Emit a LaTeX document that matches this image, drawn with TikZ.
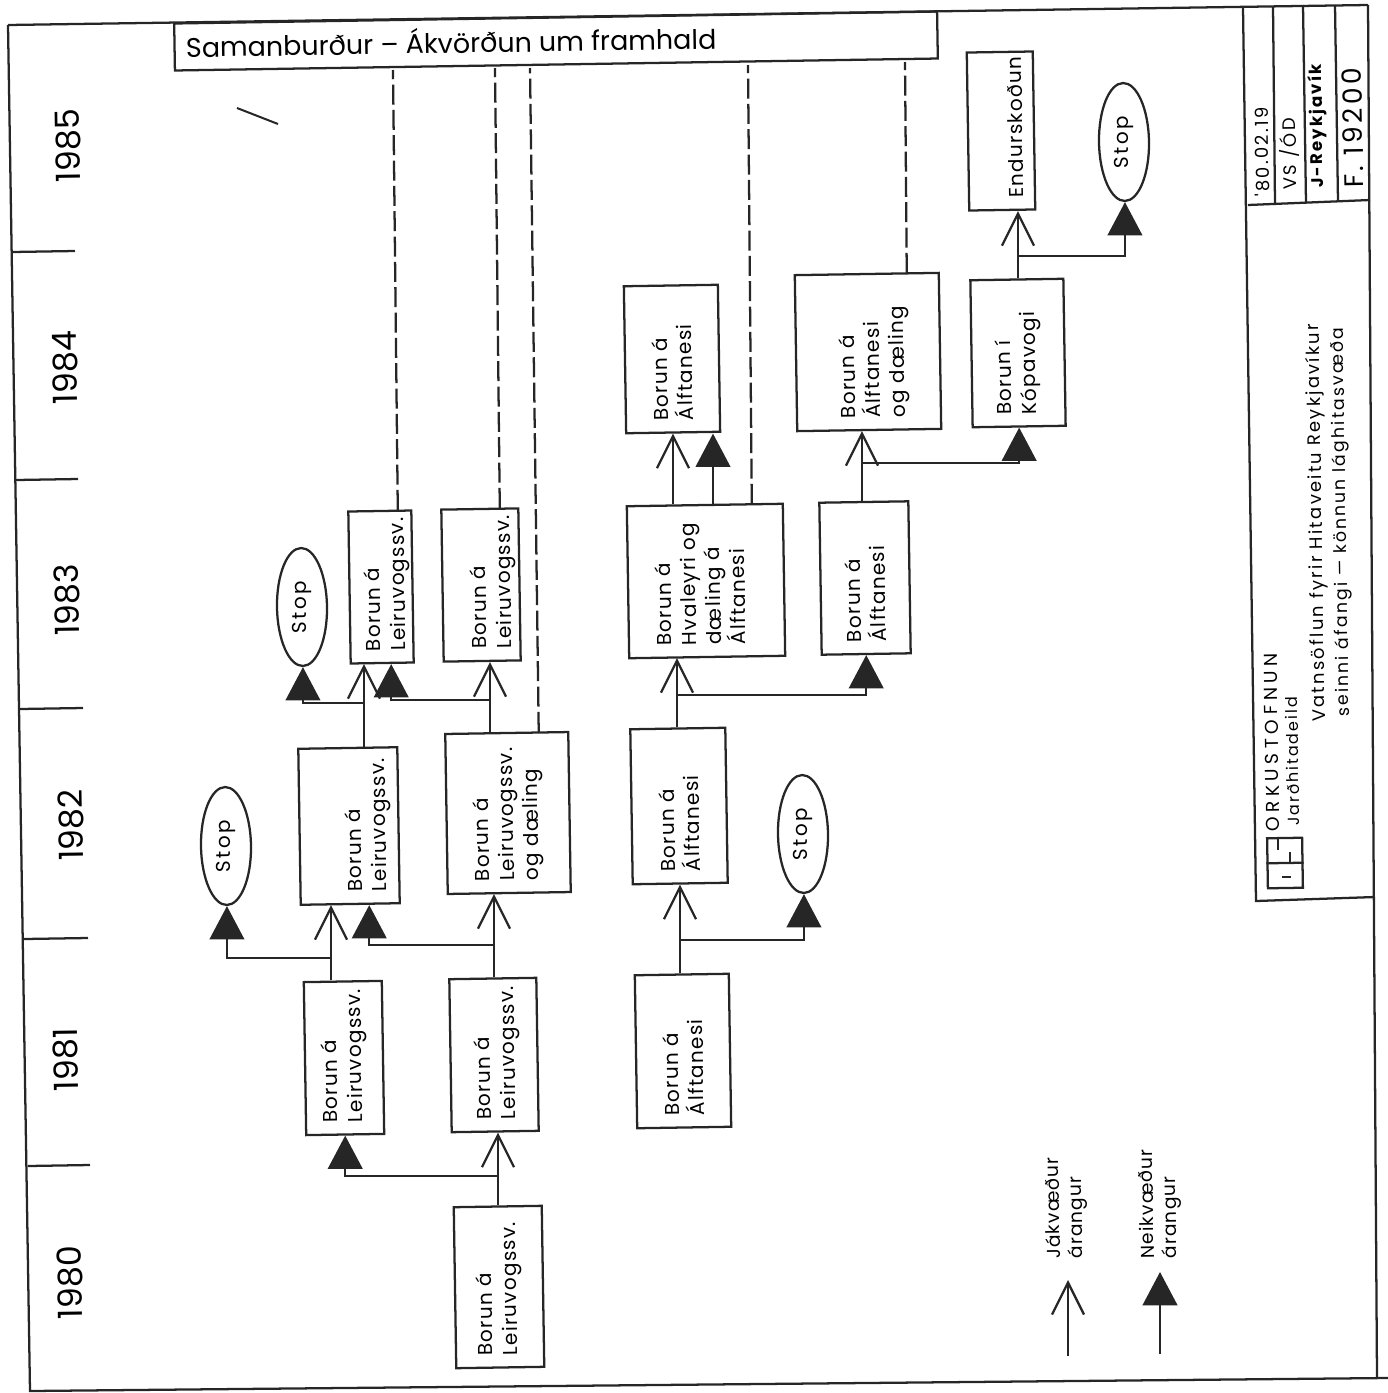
\documentclass[tikz,border=0pt]{standalone}
\usepackage{fontspec}
\setmainfont{Poppins}
\newfontfamily\wide[LetterSpace=6]{Poppins}
\newfontfamily\wider[LetterSpace=12]{Poppins}
\newfontfamily\widest[LetterSpace=24]{Poppins}
\usepackage{tikz}
\usetikzlibrary{positioning,calc,arrows.meta,shapes.geometric}
\newcommand{\tdrop}[2]{\raisebox{\dimexpr -3.75pt-#1pt*3/4\relax}[0pt][0pt]{\parbox[c]{\linewidth}{\raggedright\hyphenpenalty=10000 #2}}}

\begin{document}
\begin{tikzpicture}[
    x=0.75pt,
    y=-0.75pt,
    ink/.style={draw=black!85, line width=1.7pt},
    box/.style 2 args={
        rectangle,
        ink,
        rotate=90.9,
        inner sep=0pt,
        minimum width=#1*0.75pt,
        minimum height=#2*0.75pt,
        text width=(#1-24)*0.75pt,
        align=flush left,
        font=\wide\fontsize{15}{18.5}\selectfont
    },
    stopnode/.style={
        ellipse,
        ink,
        rotate=90.9,
        inner sep=0pt,
        minimum width=118*0.75pt,
        minimum height=50*0.75pt,
        font=\wider\fontsize{15}{18.5}\selectfont
    },
    yes/.style={ink, -{Straight Barb[length=24pt,width=24pt,line width=1.7pt]}},
    no/.style={ink, -{Triangle[length=25pt,width=26pt]}},
    future/.style={ink, dash pattern=on 15pt off 4pt},
    year/.style={rotate=90.9, font=\fontsize{25}{25}\selectfont},
    rottext/.style={rotate=90.9, align=left, inner sep=0pt}
]
\useasboundingbox (0,0) rectangle (1388,1393);

% frame and years
\draw[ink] (8,25) -- (1368,5) (8,25) -- (30,1391) -- (1388,1378);
\draw[ink] (1368,5) -- (1377,1378);
\draw[ink] (12,252) -- (75,251) (16,480) -- (78,479) (20,709) -- (83,708)
    (24,939) -- (88,938) (28,1166) -- (90,1165);
\draw[ink, line width=1.5pt] (237,108) -- (278,124);
\node[year] (y85) at (68,146) {1985};
\node[year] (y84) at (65,368) {1984};
\node[year] (y83) at (67,600) {1983};
\node[year] (y82) at (71,825) {1982};
\node[year] (y81) at (66,1060) {1981};
\node[year] (y80) at (70,1283) {1980};

% title block
\draw[ink] (1243,8) -- (1256,901) -- (1375,897);
\draw[ink] (1248,205) -- (1370,200);
\draw[ink] (1273,6) -- (1275,204) (1303,5) -- (1306,203) (1335,5) -- (1338,202);
\node[rottext, anchor=south west, font=\wider\fontsize{13.5}{13.5}\selectfont] (date) at (1270,197) {'80.02.19};
\node[rottext, anchor=south west, font=\wider\fontsize{13.5}{13.5}\selectfont] (sign) at (1300,190) {VS /ÓD};
\node[rottext, anchor=south west, font=\wider\bfseries\fontsize{12.5}{12.5}\selectfont] (place) at (1328,188) {J-Reykjavík};
\node[rottext, anchor=south west, font=\wider\fontsize{20}{20}\selectfont] (fnum) at (1364,188) {F. 19200};
\node[rottext, anchor=south west, font=\widest\fontsize{14}{14}\selectfont] (orku) at (1280,832) {ORKUSTOFNUN};
\node[rottext, anchor=south west, font=\wider\fontsize{12}{12}\selectfont] (deild) at (1300,826) {Jarðhitadeild};
\node[rottext, anchor=south west, font=\wider\fontsize{13.5}{13.5}\selectfont] (vatn) at (1330,722) {Vatnsöflun fyrir Hitaveitu Reykjavíkur};
\node[rottext, anchor=south west, font=\wider\fontsize{13}{13}\selectfont] (seinni) at (1354,717) {seinni áfangi — könnun lághitasvæða};
\node[rectangle, ink, rotate=90.9, inner sep=0pt, minimum width=50*0.75pt, minimum height=35*0.75pt] (logo) at (1285,863) {};
\draw[ink] (logo.north) -- (logo.south);
\draw[ink] (1278,839) -- (1278,850) (1290,852) -- (1290,862) (1282,877) -- (1291,877);

% comparison bar
\node[rectangle, ink, rotate=0.9, inner sep=0pt, minimum width=763*0.75pt, minimum height=47*0.75pt,
    text width=740*0.75pt, align=flush left, font=\fontsize{20.2}{20.2}\selectfont] (cmp) at (556,41)
    {\raisebox{3pt}{Samanburður – Ákvörðun um framhald}};

% first column
\node[box={161}{88}] (l80) at (499,1287) {Borun á\\Leiruvogssv.};
\node[box={153}{78}] (l81a) at (344,1058) {Borun á\\Leiruvogssv.};
\node[box={153}{87}] (l81b) at (494,1055) {\tdrop{3}{Borun á\\Leiruvogssv.}};
\node[box={156}{99}] (l82a) at (349,826) {\tdrop{19}{Borun á\\Leiruvogssv.}};
\node[box={160}{123}] (l82b) at (508,813) {Borun á\\Leiruvogssv.\\og dæling};
\node[box={152}{63}] (l83a) at (381,587) {\tdrop{6}{Borun á\\Leiruvogssv.}};
\node[box={152}{77}] (l83b) at (481,585) {\tdrop{12}{Borun á\\Leiruvogssv.}};

% second column
\node[box={153}{94}] (a81) at (683,1051) {Borun á\\Álftanesi};
\node[box={155}{95}] (a82) at (679,806) {Borun á\\Álftanesi};
\node[box={152}{156}] (h83) at (706,581) {\tdrop{-6}{Borun á\\Hvaleyri og\\dæling á\\Álftanesi}};
\node[box={147}{94}] (a84a) at (672,359) {Borun á\\Álftanesi};
\node[box={152}{89}] (a83) at (865,578) {Borun á\\Álftanesi};
\node[box={156}{144}] (a84b) at (868,352) {\tdrop{6}{Borun á\\Álftanesi\\og dæling}};
\node[box={147}{93}] (k84) at (1018,353) {Borun í\\Kópavogi};
\node[box={158}{66}] (e85) at (1001,131) {\tdrop{14}{Endurskoðun}};

% stops
\node[stopnode] (s83) at (302,607) {Stop};
\node[stopnode] (s82a) at (226,846) {Stop};
\node[stopnode] (s82b) at (803,834) {Stop};
\node[stopnode] (s85) at (1124,142) {Stop};

% branch points
\coordinate (j80) at (498,1176);
\coordinate (j81a) at (331,958);
\coordinate (j81b) at (494,945);
\coordinate (j82a) at (364,703);
\coordinate (j82b) at (490,700);
\coordinate (j81c) at (680,940);
\coordinate (j82c) at (677,695);
\coordinate (j83a) at (673,470);
\coordinate (j83b) at (713,470);
\coordinate (j83c) at (862,463);
\coordinate (j84) at (1018,256);

% positive results
\draw[yes] (j80 |- l80.east) -- (j80 |- l81b.west);
\draw[yes] (j81a |- l81a.east) -- (j81a |- l82a.west);
\draw[yes] (j81b |- l81b.east) -- (j81b |- l82b.west);
\draw[yes] (j82a |- l82a.east) -- (j82a |- l83a.west);
\draw[yes] (j82b |- l82b.east) -- (j82b |- l83b.west);
\draw[yes] (j81c |- a81.east) -- (j81c |- a82.west);
\draw[yes] (j82c |- a82.east) -- (j82c |- h83.west);
\draw[yes] (j83a |- h83.east) -- (j83a |- a84a.west);
\draw[yes] (j83c |- a83.east) -- (j83c |- a84b.west);
\draw[yes] (j84 |- k84.east) -- (j84 |- e85.west);

% negative results
\draw[no] (j80) -| (l81a.west);
\draw[no] (j81a) -| (s82a.west);
\draw[no] (j81b) -| ($(l82a.west)+(19,0)$);
\draw[no] (j82a) -| (s83.west);
\draw[no] (j82b) -| ($(l83a.west)+(9,0)$);
\draw[no] (j81c) -| (s82b.west);
\draw[no] (j82c) -| (a83.west);
\draw[no] (j83b |- h83.east) -- (j83b |- a84a.west);
\draw[no] (j83c) -| (k84.west);
\draw[no] (j84) -| (s85.west);

% lines up to the bar
\draw[future] ($(l83a.east)+(18,0)$) -- (393,70);
\draw[future] ($(l83b.east)+(20,0)$) -- (495,68);
\draw[future] ($(l82b.east)+(32,0)$) -- (530,68);
\draw[future] ($(h83.east)+(47,0)$) -- (748,65);
\draw[future] ($(a84b.east)+(40,0)$) -- (905,62);

% key
\node[rottext, font=\wide\fontsize{14}{17}\selectfont] (jak) at (1066,1208) {Jákvæður\\árangur};
\node[rottext, font=\wide\fontsize{14}{17}\selectfont] (nei) at (1160,1204) {Neikvæður\\árangur};
\coordinate (jak0) at (1068,1356);
\coordinate (jak1) at (1068,1280);
\coordinate (nei0) at (1160,1354);
\coordinate (nei1) at (1160,1272);
\draw[yes] (jak0) -- (jak1);
\draw[no] (nei0) -- (nei1);

\end{tikzpicture}
\end{document}
